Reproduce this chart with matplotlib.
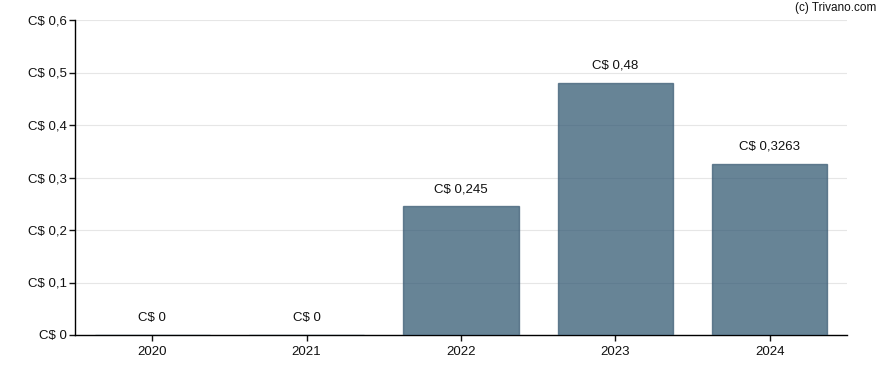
import matplotlib
matplotlib.use('Agg')
import matplotlib.pyplot as plt

years = ['2020', '2021', '2022', '2023', '2024']
dividends = [0, 0, 0.245, 0.48, 0.3263]
value_labels = ['C$ 0', 'C$ 0', 'C$ 0,245', 'C$ 0,48', 'C$ 0,3263']
y_ticks = [0, 0.1, 0.2, 0.3, 0.4, 0.5, 0.6]
y_tick_labels = ['C$ 0', 'C$ 0,1', 'C$ 0,2', 'C$ 0,3', 'C$ 0,4', 'C$ 0,5', 'C$ 0,6']

plt.rcParams['font.family'] = ['Liberation Sans', 'DejaVu Sans']

fig = plt.figure(figsize=(8.88, 3.7), dpi=100)
ax = fig.add_axes([75 / 888, 1 - 335 / 370, 772 / 888, 315 / 370])

x = range(len(years))
ax.bar(x, dividends, width=0.745, color='#2f5670', alpha=0.73,
       edgecolor='#3d5d75', linewidth=1, zorder=3)

for i, (v, lab) in enumerate(zip(dividends, value_labels)):
    ax.annotate(lab, (i, v), xytext=(0, 8), textcoords='offset points',
                ha='center', va='bottom', fontsize=9.5, color='#111111')

ax.set_xlim(-0.5, len(years) - 0.5)
ax.set_ylim(0, 0.6)
ax.set_xticks(list(x))
ax.set_xticklabels(years)
ax.set_yticks(y_ticks)
ax.set_yticklabels(y_tick_labels)
ax.tick_params(labelsize=9.5, length=4, width=1, colors='#111111', pad=2)
ax.tick_params(axis='x', pad=4)
ax.grid(axis='y', color='#e6e6e6', linewidth=0.8, zorder=0)
ax.set_axisbelow(True)
for s in ['top', 'right']:
    ax.spines[s].set_visible(False)
for s in ['left', 'bottom']:
    ax.spines[s].set_color('#000000')
    ax.spines[s].set_linewidth(1)

fig.text(876 / 888, 1 - 8 / 370, '(c) Trivano.com', ha='right', va='center',
         fontsize=8.5, color='#111111')

fig.savefig('out.png', dpi=100)
